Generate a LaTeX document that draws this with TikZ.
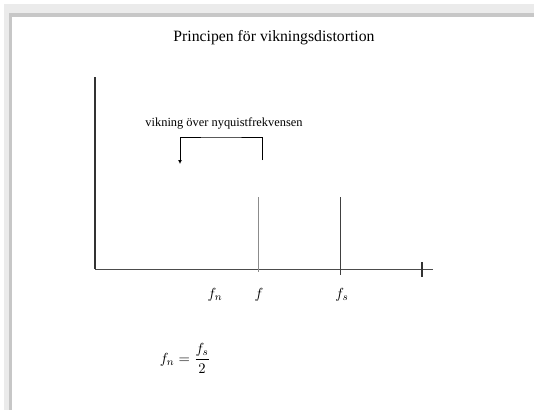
\documentclass[tikz,border=0pt]{standalone}
\usepackage{amsmath}
\usepackage{fontspec}
\setmainfont{Liberation Serif}
\usepackage{tikz}
\usetikzlibrary{arrows.meta, positioning, calc}

\begin{document}
\begin{tikzpicture}[
    x=0.75pt, y=-0.75pt,
    axis/.style={draw=black!80, line width=0.9pt},
    spike/.style={draw=black!75, line width=0.6pt},
    fold/.style={-{Latex[length=3pt, width=3pt]}, line width=0.6pt},
    lbl/.style={inner sep=1pt, font=\fontsize{11}{13}\selectfont},
]
\useasboundingbox (0,0) rectangle (534,410);

% --- window frame -------------------------------------------------------------
\fill[black!8] (4,4) rectangle (534,13);
\fill[black!8] (4,4) rectangle (9,410);
\fill[black!22] (9,13) rectangle (534,17);
\fill[black!22] (9,13) rectangle (12,410);

% --- title ----------------------------------------------------------------------
\node[font=\fontsize{11.8}{14}\selectfont] (title) at (274,38) {Principen för vikningsdistortion};

% --- axes -----------------------------------------------------------------------
\coordinate (O) at (95,269);
\coordinate (ytop) at (95,77);
\coordinate (xend) at (433,269);
\coordinate (tickT) at (422,262);
\coordinate (tickB) at (422,277);
\draw[axis] (O) -- (ytop);
\draw[draw=black!70, line width=0.5pt] (O) -- (xend);
\draw[axis] (tickT) -- (tickB);

% --- spectral lines at f and f_s -------------------------------------------------
\coordinate (fTop) at (258,197);
\coordinate (fBot) at (258,272);
\coordinate (sTop) at (340,197);
\coordinate (sBot) at (340,275);
\draw[spike, draw=black!45, line width=0.5pt] (fTop) -- (fBot);
\draw[spike] (sTop) -- (sBot);

\node[lbl] (fn) at (215,295) {$f_n$};
\node[lbl] (f)  at (259,295) {$f$};
\node[lbl] (fs) at (342,295) {$f_s$};

% --- folding bracket ------------------------------------------------------------
\node[font=\fontsize{9.3}{11}\selectfont] (foldtxt) at (224,123) {vikning över nyquistfrekvensen};
\coordinate (brR) at (262,160);
\coordinate (brTop) at (221,137);
\coordinate (brL) at (180,164);
\draw[fold] (brR) |- (brTop) -| (brL);

% --- relation -------------------------------------------------------------------
\node[font=\fontsize{11}{13}\selectfont] (eq) at (185,358) {$f_n = \dfrac{f_s}{2}$};

\end{tikzpicture}
\end{document}
